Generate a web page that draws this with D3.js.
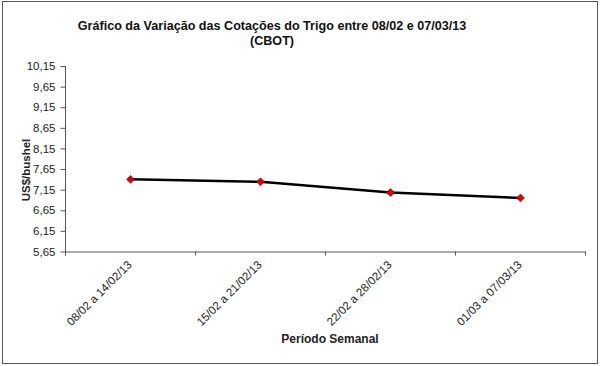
<!DOCTYPE html>
<html><head><meta charset="utf-8">
<script src="https://cdn.jsdelivr.net/npm/d3@7"></script>
<style>body{margin:0;background:#fff}svg{display:block}</style>
</head><body>
<svg id="c" width="600" height="366"></svg>
<script>
const categories = ["08/02 a 14/02/13","15/02 a 21/02/13","22/02 a 28/02/13","01/03 a 07/03/13"];
const values = [7.40, 7.34, 7.08, 6.95];
const yTicks = [5.65,6.15,6.65,7.15,7.65,8.15,8.65,9.15,9.65,10.15];
const titleLines = ["Gráfico da Variação das Cotações do Trigo entre 08/02 e 07/03/13","(CBOT)"];
const yTitle = "US$/bushel";
const xTitle = "Período Semanal";

const svg = d3.select("#c");
const font = "Arial, 'Liberation Sans', sans-serif";
svg.append("rect").attr("x",2.5).attr("y",1.5).attr("width",595).attr("height",362)
  .attr("fill","#fff").attr("stroke","#555").attr("stroke-width",1);

const L=65.5, R=585.5, T=66, B=251.5;
const x = d3.scaleBand().domain(categories).range([L,R]);
const y = d3.scaleLinear().domain([5.65,10.15]).range([B,T]);

// title
svg.append("g").selectAll("text").data(titleLines).join("text")
  .attr("x",272).attr("y",(d,i)=>30+i*15).attr("text-anchor","middle")
  .attr("font-family",font).attr("font-weight","bold").attr("font-size",12.6).attr("fill","#111").text(d=>d);

// y axis
const yAxis = svg.append("g").attr("transform",`translate(${L},0)`)
  .call(d3.axisLeft(y).tickValues(yTicks).tickSize(5).tickSizeOuter(0).tickFormat(d=>d.toFixed(2).replace(".",",")));
yAxis.select(".domain").attr("stroke","#555").attr("d",`M0,${T}V${B+4}`);
yAxis.selectAll(".tick line").attr("stroke","#555");
yAxis.selectAll(".tick text").attr("font-family",font).attr("font-size",11.5).attr("fill","#222").attr("x",-10);

// x axis
const xAxis = svg.append("g").attr("transform",`translate(0,${B})`)
  .call(d3.axisBottom(x).tickSize(0).tickSizeOuter(0).tickFormat(""));
xAxis.select(".domain").attr("stroke","#555");
xAxis.selectAll(".tick").remove();
const bounds = categories.map(c=>x(c)).concat([R]);
xAxis.selectAll("line.b").data(bounds).join("line").attr("class","b")
  .attr("x1",d=>d).attr("x2",d=>d).attr("y1",0).attr("y2",4).attr("stroke","#555");
svg.append("g").selectAll("text").data(categories).join("text")
  .attr("transform",d=>`translate(${x(d)+x.bandwidth()/2+2},${B+14}) rotate(-45)`)
  .attr("text-anchor","end").attr("font-family",font).attr("font-size",11.5).attr("fill","#222").text(d=>d);

// axis titles
svg.append("text").attr("transform","translate(30,170) rotate(-90)").attr("text-anchor","middle")
  .attr("font-family",font).attr("font-weight","bold").attr("font-size",11.5).attr("fill","#222").text(yTitle);
svg.append("text").attr("x",330).attr("y",343).attr("text-anchor","middle")
  .attr("font-family",font).attr("font-weight","bold").attr("font-size",12).attr("fill","#222").text(xTitle);

// line
const pts = categories.map((c,i)=>[x(c)+x.bandwidth()/2, y(values[i])]);
svg.append("path").attr("d",d3.line()(pts)).attr("fill","none").attr("stroke","#000").attr("stroke-width",2.5);
svg.append("g").selectAll("path").data(pts).join("path")
  .attr("d",d3.symbol(d3.symbolDiamond2,40)())
  .attr("transform",d=>`translate(${d[0]},${d[1]})`)
  .attr("fill","#d40010").attr("stroke","#800").attr("stroke-width",0.6);
</script>
</body></html>
